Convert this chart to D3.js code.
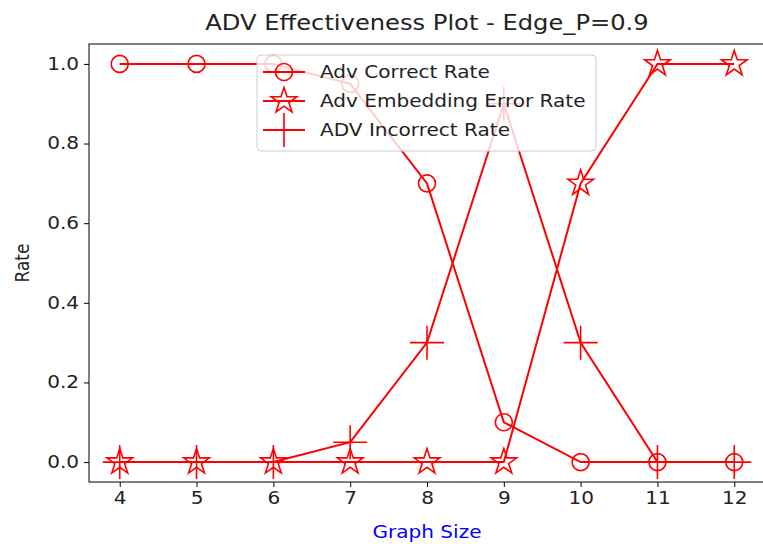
<!DOCTYPE html>
<html>
<head>
<meta charset="utf-8">
<script src="https://cdn.jsdelivr.net/npm/d3@7"></script>
<style>
  html, body { margin: 0; padding: 0; background: #fff; }
  svg { display: block; font-family: "DejaVu Sans", sans-serif; }
</style>
</head>
<body>
<svg id="chart" width="763" height="544"></svg>
<script>
// Graph sizes on the x axis
const graphSizes = [4, 5, 6, 7, 8, 9, 10, 11, 12];
// Rates per graph size
const advCorrectRate = [1, 1, 1, 0.95, 0.7, 0.1, 0, 0, 0];
const advEmbeddingErrorRate = [0, 0, 0, 0, 0, 0, 0.7, 1, 1];
const advIncorrectRate = [0, 0, 0, 0.05, 0.3, 0.9, 0.3, 0, 0];
const yTicks = [0.0, 0.2, 0.4, 0.6, 0.8, 1.0];

const series = [
  { name: "Adv Correct Rate", values: advCorrectRate, marker: "circle" },
  { name: "Adv Embedding Error Rate", values: advEmbeddingErrorRate, marker: "star" },
  { name: "ADV Incorrect Rate", values: advIncorrectRate, marker: "plus" }
];

const svg = d3.select("#chart");
const margin = { left: 89, right: -2, top: 44, bottom: 62 };
const W = 763, H = 544;
const x0 = margin.left, x1 = W - margin.right;
const y0 = H - margin.bottom, y1 = margin.top;
const SX = 1.18;          // horizontal stretch of all text
const FS = 17;            // base font size

const x = d3.scaleLinear().domain([3.6, 12.4]).range([x0, x1]);
const y = d3.scaleLinear().domain([-0.05, 1.05]).range([y0, y1]);
const red = "#ff0000";

// Axes
const xAxis = d3.axisBottom(x).tickValues(graphSizes).tickFormat(d3.format("d")).tickSize(5).tickPadding(5);
const yAxis = d3.axisLeft(y).tickValues(yTicks).tickFormat(d3.format(".1f")).tickSize(5).tickPadding(5);

const gx = svg.append("g").attr("transform", `translate(0,${y0})`).call(xAxis);
const gy = svg.append("g").attr("transform", `translate(${x0},0)`).call(yAxis);
[gx, gy].forEach(g => {
  g.select(".domain").remove();
  g.selectAll("line").attr("stroke", "#000").attr("stroke-width", 1);
  g.selectAll("text").attr("fill", "#222").attr("font-size", FS).attr("font-family", "DejaVu Sans")
    .attr("transform", `scale(${SX},1)`);
});
gy.selectAll("text").attr("x", -10 / SX);

// Marker symbols
const star = d3.symbol().type(d3.symbolStar).size(205);
function drawMarker(g, kind, cx, cy) {
  if (kind === "circle") {
    g.append("circle").attr("cx", cx).attr("cy", cy).attr("r", 8.5)
      .attr("fill", "none").attr("stroke", red).attr("stroke-width", 1.6);
  } else if (kind === "star") {
    g.append("path").attr("d", star()).attr("transform", `translate(${cx},${cy})`)
      .attr("fill", "none").attr("stroke", red).attr("stroke-width", 1.6);
  } else {
    g.append("path").attr("d", `M${cx - 17},${cy}H${cx + 17}M${cx},${cy - 17}V${cy + 17}`)
      .attr("fill", "none").attr("stroke", red).attr("stroke-width", 1.6);
  }
}

const plot = svg.append("g");
const line = d3.line().x((d, i) => x(graphSizes[i])).y(d => y(d));
series.forEach(s => {
  const g = plot.append("g");
  g.append("path").attr("d", line(s.values)).attr("fill", "none")
    .attr("stroke", red).attr("stroke-width", 2);
  s.values.forEach((v, i) => drawMarker(g, s.marker, x(graphSizes[i]), y(v)));
});

// Frame
svg.append("rect").attr("x", x0).attr("y", y1).attr("width", x1 - x0).attr("height", y0 - y1)
  .attr("fill", "none").attr("stroke", "#000").attr("stroke-width", 1);

// Stretched text helper
function label(parent, tx, ty, str, opts = {}) {
  const t = parent.append("text")
    .attr("transform", `translate(${tx},${ty}) scale(${SX},1)` + (opts.rotate ? ` rotate(${opts.rotate})` : ""))
    .attr("font-size", opts.size || FS).attr("fill", opts.fill || "#222")
    .attr("text-anchor", opts.anchor || "start").text(str);
  if (opts.dy) t.attr("dy", opts.dy);
  return t;
}

// Legend
const leg = svg.append("g").attr("transform", "translate(257,55)");
leg.append("rect").attr("width", 339).attr("height", 96).attr("rx", 4)
  .attr("fill", "#fff").attr("fill-opacity", 0.8).attr("stroke", "#ccc").attr("stroke-width", 1);
series.forEach((s, i) => {
  const cy = 17 + i * 29;
  const g = leg.append("g");
  g.append("line").attr("x1", 6).attr("x2", 48).attr("y1", cy).attr("y2", cy)
    .attr("stroke", red).attr("stroke-width", 2);
  drawMarker(g, s.marker, 27, cy);
  label(g, 63, cy, s.name, { dy: "0.35em" });
});

// Titles
label(svg, (x0 + x1) / 2, 30, "ADV Effectiveness Plot - Edge_P=0.9", { size: 20.5, anchor: "middle" });
label(svg, (x0 + x1) / 2, 538, "Graph Size", { anchor: "middle", fill: "#0000ff" });
label(svg, 29, (y0 + y1) / 2, "Rate", { anchor: "middle", rotate: -90 });
</script>
</body>
</html>
